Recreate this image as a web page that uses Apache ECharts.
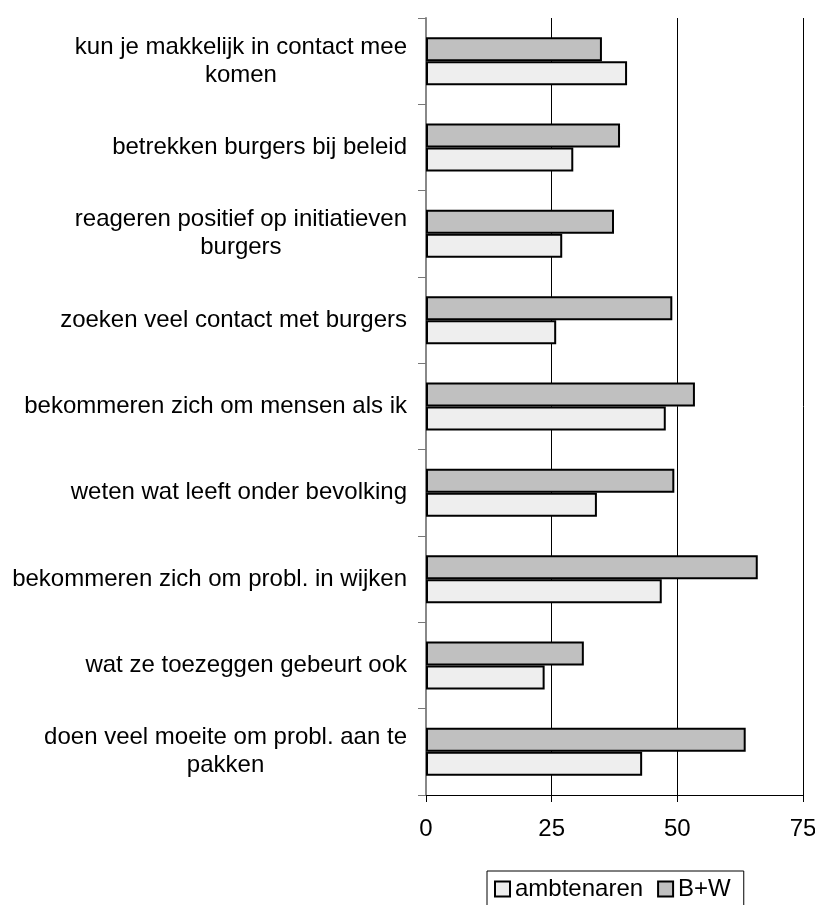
<!DOCTYPE html>
<html>
<head>
<meta charset="utf-8">
<script src="https://cdn.jsdelivr.net/npm/echarts@6/dist/echarts.min.js"></script>
<style>
html,body{margin:0;padding:0;background:#fff;}
#chart{width:815px;height:905px;}
</style>
</head>
<body>
<div id="chart"></div>
<script>
var categories = [
  "kun je makkelijk in contact mee\nkomen",
  "betrekken burgers bij beleid",
  "reageren positief op initiatieven\nburgers",
  "zoeken veel contact met burgers",
  "bekommeren zich om mensen als ik",
  "weten wat leeft onder bevolking",
  "bekommeren zich om probl. in wijken",
  "wat ze toezeggen gebeurt ook",
  "doen veel moeite om probl. aan te\npakken"
];
var ambtenaren = [40.0, 29.3, 27.1, 25.9, 47.7, 34.0, 46.9, 23.6, 43.0];
var bw = [35.0, 38.6, 37.4, 49.0, 53.5, 49.4, 66.0, 31.4, 63.6];
var seriesNames = ["ambtenaren", "B+W"];
var xTicks = { min: 0, max: 75, interval: 25 };

var FONT = "'Liberation Sans', Arial, sans-serif";
var chart = echarts.init(document.getElementById('chart'), null, { renderer: 'canvas' });
chart.setOption({
  animation: false,
  backgroundColor: '#ffffff',
  grid: { left: 426, right: 12, top: 18, bottom: 110, outerBoundsMode: 'none' },
  legend: {
    data: seriesNames,
    left: 487,
    top: 871,
    orient: 'horizontal',
    itemWidth: 15,
    itemHeight: 15,
    itemGap: 14,
    padding: [6, 13, 30, 7],
    borderColor: '#000',
    borderWidth: 1,
    icon: 'rect',
    textStyle: { fontFamily: FONT, fontSize: 24, color: '#000' }
  },
  xAxis: {
    type: 'value',
    min: xTicks.min, max: xTicks.max, interval: xTicks.interval,
    axisLine: { show: true, lineStyle: { color: '#000', width: 1 } },
    axisTick: { show: true, length: 7, lineStyle: { color: '#000' } },
    axisLabel: { margin: 22, fontFamily: FONT, fontSize: 24, color: '#000' },
    splitLine: { show: true, lineStyle: { color: '#000', width: 1 } }
  },
  yAxis: {
    type: 'category',
    inverse: true,
    data: categories,
    axisLine: { show: true, lineStyle: { color: '#888', width: 2 } },
    axisTick: { show: true, length: 8, alignWithLabel: false, lineStyle: { color: '#777', width: 1 } },
    axisLabel: {
      margin: 19,
      fontFamily: FONT, fontSize: 24, color: '#000', lineHeight: 28,
      formatter: function (v) {
        return v.split('\n').map(function (l) { return '{c|' + l + '}'; }).join('\n');
      },
      rich: { c: { align: 'center', fontFamily: FONT, fontSize: 24, lineHeight: 28, color: '#000' } }
    },
    splitLine: { show: false }
  },
  series: [
    {
      name: seriesNames[1], type: 'bar', data: bw,
      barWidth: 24, barGap: '0%',
      itemStyle: { color: '#c0c0c0', borderColor: '#000', borderWidth: 2 }
    },
    {
      name: seriesNames[0], type: 'bar', data: ambtenaren,
      barWidth: 24, barGap: '0%',
      itemStyle: { color: '#eeeeee', borderColor: '#000', borderWidth: 2 }
    }
  ]
});
</script>
</body>
</html>
